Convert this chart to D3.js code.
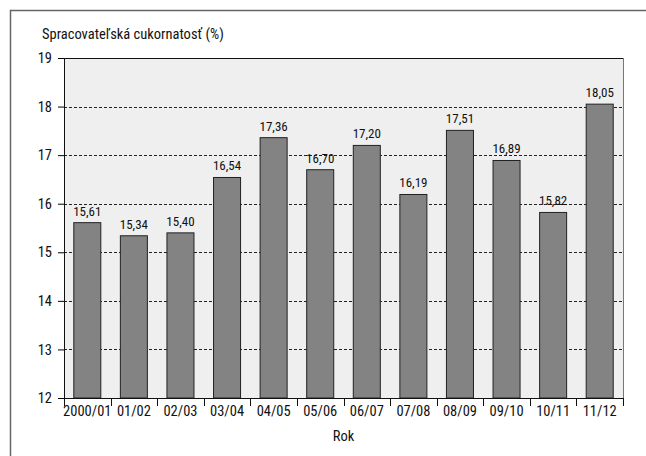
<!DOCTYPE html>
<html>
<head>
<meta charset="utf-8">
<script src="https://cdn.jsdelivr.net/npm/d3@7"></script>
<style>
  body { margin: 0; background: #fff; }
  text { font-family: "Liberation Sans Narrow", "Arial Narrow", "Roboto Condensed", "Liberation Sans", sans-serif; fill: #111; }
</style>
</head>
<body>
<svg id="chart" width="646" height="456"></svg>
<script>
// data
const years = ["2000/01", "01/02", "02/03", "03/04", "04/05", "05/06", "06/07", "07/08", "08/09", "09/10", "10/11", "11/12"];
const values = [15.61, 15.34, 15.40, 16.54, 17.36, 16.70, 17.20, 16.19, 17.51, 16.89, 15.82, 18.05];
const yTicks = [12, 13, 14, 15, 16, 17, 18, 19];

const svg = d3.select("#chart");
const margin = { left: 64, top: 58, right: 23, bottom: 58 };
const width = 646 - margin.left - margin.right;
const height = 456 - margin.top - margin.bottom;

// outer frame
svg.append("rect")
  .attr("x", 10.5).attr("y", 10.5)
  .attr("width", 700).attr("height", 500)
  .attr("fill", "none").attr("stroke", "#666").attr("stroke-width", 1.5);

const g = svg.append("g").attr("transform", `translate(${margin.left},${margin.top})`);

const x = d3.scaleBand().domain(years).range([0, width]).paddingInner(0.42).paddingOuter(0.21);
const y = d3.scaleLinear().domain([12, 19]).range([height, 0]);

// plot background
g.append("rect").attr("width", width).attr("height", height).attr("fill", "#eeefee");

// grid lines
g.selectAll(".grid").data(yTicks.filter(d => d > 12 && d < 19)).join("line")
  .attr("x1", 0).attr("x2", width)
  .attr("y1", d => Math.round(y(d)) + 0.5).attr("y2", d => Math.round(y(d)) + 0.5)
  .attr("stroke", "#222").attr("stroke-dasharray", "3,2");

// right border
g.append("line").attr("x1", width + 0.5).attr("x2", width + 0.5).attr("y1", 0).attr("y2", height)
  .attr("stroke", "#777");
// top line
g.append("line").attr("x1", 0).attr("x2", width).attr("y1", 0.5).attr("y2", 0.5)
  .attr("stroke", "#111");

// bars
g.selectAll(".bar").data(values).join("rect")
  .attr("x", (d, i) => x(years[i]))
  .attr("y", d => y(d))
  .attr("width", x.bandwidth())
  .attr("height", d => height - y(d))
  .attr("fill", "#838383").attr("stroke", "#222").attr("stroke-width", 1);

// value labels
g.selectAll(".lbl").data(values).join("text")
  .attr("x", (d, i) => x(years[i]) + x.bandwidth() / 2)
  .attr("y", d => y(d) - 7)
  .attr("text-anchor", "middle")
  .attr("font-size", 13)
  .text(d => d.toFixed(2).replace(".", ","));

// y axis
const yAxis = g.append("g").call(d3.axisLeft(y).tickValues(yTicks).tickFormat(d3.format("d")).tickSize(6).tickPadding(6));
yAxis.selectAll("text").attr("font-size", 14.5);
yAxis.select(".domain").attr("stroke", "#111");

// x axis with ticks at band boundaries
const xAxis = g.append("g").attr("transform", `translate(0,${height})`)
  .call(d3.axisBottom(x).tickSize(0).tickPadding(8));
xAxis.selectAll("text").attr("font-size", 14.5);
xAxis.select(".domain").attr("stroke", "#111");
const step = x.step();
g.selectAll(".xtick").data(d3.range(years.length + 1)).join("line")
  .attr("x1", i => Math.round(i * step) + 0.5).attr("x2", i => Math.round(i * step) + 0.5)
  .attr("y1", height).attr("y2", height + 8)
  .attr("stroke", "#111");

// titles
svg.append("text").attr("x", 42).attr("y", 39).attr("font-size", 14.5)
  .text("Spracovateľská cukornatosť (%)");
svg.append("text").attr("x", margin.left + width / 2).attr("y", 441)
  .attr("text-anchor", "middle").attr("font-size", 14.5).text("Rok");
</script>
</body>
</html>
